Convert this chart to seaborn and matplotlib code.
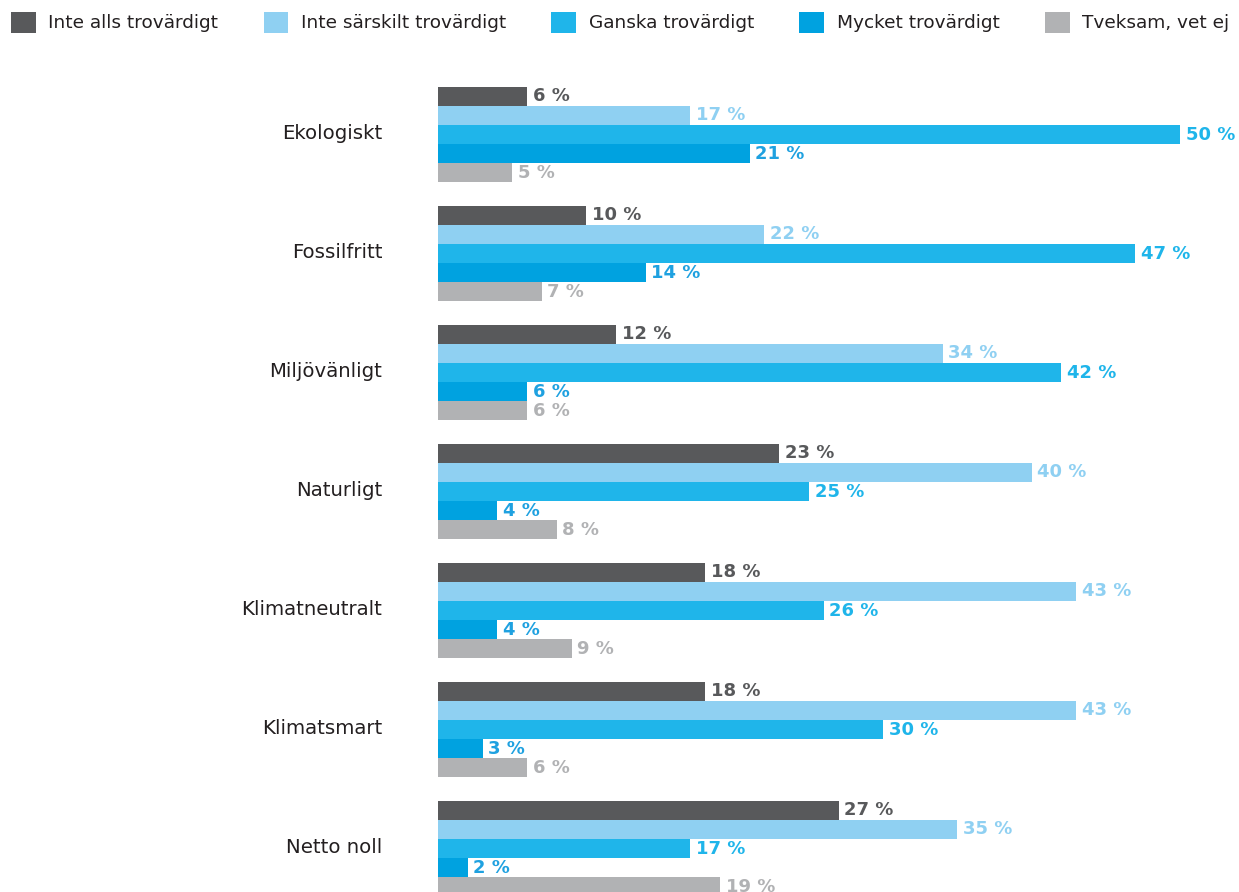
import matplotlib
matplotlib.use("Agg")
import matplotlib.pyplot as plt
from matplotlib.transforms import ScaledTranslation
import seaborn as sns
import pandas as pd

categories = ["Ekologiskt", "Fossilfritt", "Miljövänligt", "Naturligt",
              "Klimatneutralt", "Klimatsmart", "Netto noll"]
series = ["Inte alls trovärdigt", "Inte särskilt trovärdigt", "Ganska trovärdigt",
          "Mycket trovärdigt", "Tveksam, vet ej"]
inte_alls = [6, 10, 12, 23, 18, 18, 27]
inte_sarskilt = [17, 22, 34, 40, 43, 43, 35]
ganska = [50, 47, 42, 25, 26, 30, 17]
mycket = [21, 14, 6, 4, 4, 3, 2]
tveksam = [5, 7, 6, 8, 9, 6, 19]

colors = ["#58595b", "#8fd0f2", "#1fb5ea", "#00a2e0", "#b1b2b4"]
label_colors = ["#58595b", "#8fd0f2", "#1fb5ea", "#1fa1e0", "#b1b2b4"]

values = [inte_alls, inte_sarskilt, ganska, mycket, tveksam]
rows = []
for s, vals in zip(series, values):
    for c, v in zip(categories, vals):
        rows.append({"Kategori": c, "Svar": s, "Andel": v})
df = pd.DataFrame(rows)

sns.set_theme(style="white")
plt.rcParams["font.family"] = ["DejaVu Sans"]

W, H = 1239, 892
fig = plt.figure(figsize=(W / 100, H / 100), dpi=100)
x0 = 438
ax = fig.add_axes([x0 / W, 0, 1 - x0 / W, 1])

sns.barplot(data=df, y="Kategori", x="Andel", hue="Svar", order=categories,
            hue_order=series, palette=colors, saturation=1, orient="h",
            width=0.8, linewidth=0, errorbar=None, ax=ax)

px_per_pct = 742 / 50
ax.set_xlim(0, (W - x0) / px_per_pct)
unit = 119
top = -134.5 / unit
bottom = (H - 134.5) / unit
ax.set_ylim(bottom, top)

for cont, col in zip(ax.containers, label_colors):
    ax.bar_label(cont, labels=[f"{int(v)} %" for v in cont.datavalues],
                 padding=4, color=col, fontsize=13, fontweight="bold",
                 clip_on=False)

for sp in ax.spines.values():
    sp.set_visible(False)
ax.set_xticks([])
ax.set_xlabel("")
ax.set_ylabel("")
ax.tick_params(axis="y", length=0, pad=40, labelsize=14.2, labelcolor="#231f20")
for lbl in ax.get_yticklabels():
    lbl.set_transform(lbl.get_transform() + ScaledTranslation(0, 3 / 100, fig.dpi_scale_trans))

handles, labels = ax.get_legend_handles_labels()
if ax.get_legend() is not None:
    ax.get_legend().remove()
fig.legend(handles, labels, loc="upper left", bbox_to_anchor=(11 / W, 1 - 12 / H),
           ncol=5, frameon=False, fontsize=13.3, handlelength=1.34, handleheight=1.34,
           handletextpad=0.68, columnspacing=2.45, borderpad=0, borderaxespad=0,
           labelcolor="#231f20")

fig.savefig("out.png", dpi=100)
